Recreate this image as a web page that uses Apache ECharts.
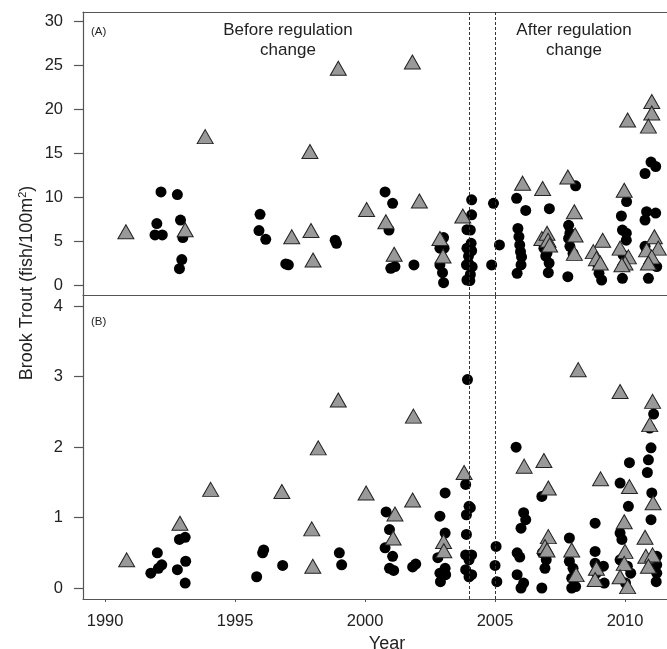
<!DOCTYPE html>
<html>
<head>
<meta charset="utf-8">
<script src="https://cdn.jsdelivr.net/npm/echarts@6/dist/echarts.min.js"></script>
<style>html,body{margin:0;padding:0;background:#fff;}#c{width:667px;height:649px;}</style>
</head>
<body>
<div id="c"></div>
<script>
// Panel A: density (fish/100m2) — [year, value]
var circlesA = [
 [1992.15,10.6],[1991.99,7.0],[1991.92,5.7],[1992.2,5.7],
 [1992.78,10.3],[1992.9,7.4],[1992.99,5.4],[1992.95,2.9],[1992.86,1.86],
 [1995.96,8.05],[1995.92,6.2],[1996.18,5.2],
 [1996.95,2.4],[1997.05,2.3],
 [1998.85,5.1],[1998.9,4.75],
 [2000.77,10.6],[2001.06,9.3],[2000.92,6.26],[2000.99,1.9],[2001.15,2.1],
 [2001.88,2.28],
 [2003.02,5.4],[2003.04,4.2],[2002.88,4.2],[2002.88,2.3],[2002.98,1.4],[2003.02,0.26],
 [2003.92,6.3],[2003.92,4.2],[2003.9,2.3],[2003.92,0.57],
 [2004.1,9.7],[2004.1,8.0],[2004.05,6.26],[2004.08,4.75],[2004.1,3.9],[2003.98,3.3],[2003.98,2.47],[2004.12,2.08],[2004.05,1.2],[2004.03,0.5],
 [2004.94,9.3],[2005.17,4.56],[2004.87,2.28],
 [2005.83,9.87],[2006.18,8.5],[2005.88,6.45],[2005.92,5.5],[2005.95,4.56],[2005.98,3.8],[2006.02,3.2],[2006.0,2.28],[2005.85,1.33],
 [2007.09,8.7],[2006.88,4.2],[2007.0,3.65],[2006.95,3.3],[2007.08,2.5],[2007.05,1.4],
 [2008.1,11.3],[2007.83,6.8],[2007.88,5.9],[2007.83,5.3],[2007.88,4.4],[2008.0,3.6],[2007.8,0.95],
 [2008.97,2.1],[2009.1,0.57],[2009.0,1.33],
 [2010.06,9.5],[2009.86,7.86],[2009.9,6.26],[2010.05,5.9],[2010.05,5.1],[2009.93,3.4],[2009.9,2.1],[2009.9,0.76],
 [2011.0,14.0],[2011.18,13.5],[2010.77,12.7],[2010.83,8.35],[2011.18,8.2],[2010.77,7.4],[2010.77,4.4],[2011.22,2.1],[2010.9,0.76]
];
var trianglesA = [
 [1990.8,6.07],[1993.08,6.3],[1993.85,16.9],[1997.18,5.5],[1997.92,6.2],[1997.88,15.2],[1998.0,2.85],
 [1998.97,24.7],[2000.06,8.6],[2000.8,7.2],[2001.12,3.5],[2001.82,25.4],[2002.09,9.57],[2002.88,5.3],[2003.0,3.3],[2003.76,7.86],
 [2006.06,11.6],
 [2006.83,11.0],[2006.8,5.3],[2007.0,5.9],[2007.04,5.1],[2007.1,4.56],
 [2007.8,12.3],[2008.05,8.35],[2008.08,5.7],[2008.05,3.6],
 [2009.14,5.1],[2008.78,3.8],[2008.9,3.0],[2009.05,2.5],
 [2010.1,18.8],[2009.97,10.8],[2009.81,4.2],[2010.13,3.2],[2010.0,2.5],[2009.88,2.3],
 [2011.03,20.9],[2011.03,19.6],[2010.9,18.1],[2011.13,5.5],[2010.83,4.0],[2011.28,4.2],[2011.03,3.2],[2010.9,2.5]
];
// Panel B
var circlesB = [
 [1992.01,0.50],[1992.18,0.33],[1992.05,0.28],[1991.76,0.21],
 [1992.86,0.69],[1993.08,0.72],[1992.78,0.26],[1993.1,0.38],[1993.08,0.07],
 [1996.1,0.54],[1996.06,0.50],[1995.83,0.16],
 [1996.83,0.32],
 [1999.01,0.50],[1999.1,0.33],
 [2000.81,1.08],[2000.94,0.83],[2000.77,0.57],[2001.06,0.45],[2000.94,0.28],[2001.1,0.25],
 [2001.83,0.30],[2001.95,0.34],
 [2003.08,1.35],[2002.88,1.02],[2003.08,0.78],[2002.8,0.43],[2003.08,0.28],[2002.88,0.21],[2003.1,0.19],[2002.9,0.09],
 [2003.94,2.96],[2003.87,1.47],[2004.0,1.16],[2003.9,1.04],[2003.9,0.76],[2003.87,0.47],[2004.0,0.40],[2003.87,0.26],[2004.0,0.16],[2004.1,0.47],[2004.1,0.19],[2004.05,1.14],
 [2005.04,0.59],[2005.0,0.32],[2005.07,0.09],
 [2005.81,2.0],[2006.1,1.07],[2006.18,0.97],[2006.0,0.85],[2005.85,0.50],[2005.95,0.44],[2005.85,0.19],[2006.1,0.07],[2006.0,0.0],
 [2006.8,1.30],[2006.82,0.50],[2006.97,0.40],[2006.92,0.28],[2006.8,0.0],
 [2007.86,0.71],[2007.86,0.38],[2008.0,0.28],[2007.95,0.14],[2008.1,0.02],[2007.95,0.0],
 [2008.85,0.92],[2008.85,0.52],[2008.85,0.35],[2009.17,0.31],[2008.9,0.21],[2009.2,0.07],
 [2010.17,1.78],[2009.81,1.49],[2010.13,1.16],[2009.81,0.78],[2009.88,0.69],[2009.81,0.40],[2010.09,0.31],[2010.22,0.21],[2010.02,0.07],
 [2011.1,2.47],[2010.95,2.27],[2011.0,1.99],[2010.9,1.82],[2010.86,1.64],[2011.03,1.35],[2011.0,0.97],[2011.22,0.45],[2011.0,0.40],[2011.22,0.33],[2011.22,0.21],[2011.2,0.09]
];
var trianglesB = [
 [1990.83,0.40],[1992.88,0.92],[1994.06,1.40],[1996.8,1.37],[1997.95,0.84],[1997.99,0.31],[1998.2,1.99],[1998.97,2.67],
 [2000.04,1.35],[2001.15,1.05],[2001.08,0.71],[2001.86,2.44],[2001.83,1.25],[2003.02,0.66],[2003.03,0.53],[2003.81,1.64],
 [2006.12,1.73],
 [2006.88,1.81],[2007.05,1.42],[2007.05,0.73],[2006.92,0.59],[2007.0,0.54],
 [2008.2,3.1],[2007.95,0.54],[2008.12,0.19],
 [2009.06,1.55],[2008.9,0.28],[2008.85,0.12],
 [2009.81,2.79],[2010.17,1.44],[2009.97,0.94],[2010.0,0.52],[2009.97,0.35],[2009.81,0.16],[2010.1,0.02],
 [2011.06,2.65],[2010.95,2.32],[2011.08,1.21],[2010.77,0.72],[2010.8,0.45],[2011.06,0.47],[2010.9,0.31]
];
var yTicksA = [0,5,10,15,20,25,30];
var yTicksB = [0,1,2,3,4];
var xTicks = [1990,1995,2000,2005,2010];
var regulationYears = [2004, 2005];

var FONT = 'Liberation Sans, Arial, Helvetica, sans-serif';
var AX = '#555';
var XMIN = 1989.15, XMAX = 2011.615;
var chart = echarts.init(document.getElementById('c'), null, {renderer:'canvas'});

var dashLine = {
  silent:true, symbol:'none', label:{show:false},
  lineStyle:{color:'#333', width:1, type:[3,2]},
  data: regulationYears.map(function(y){return {xAxis:y};})
};
var circleStyle = {color:'#000', opacity:1};
var triStyle = {color:'#999', borderColor:'#222', borderWidth:1, opacity:1};

function yAxisFor(idx, min, max, ticks){
  return {
    type:'value', gridIndex:idx, min:min, max:max,
    axisLine:{show:true, lineStyle:{color:AX, width:1.2}},
    axisTick:{show:true, length:9, inside:false, customValues:ticks, lineStyle:{color:AX, width:1.2}},
    axisLabel:{customValues:ticks, margin:20, fontSize:16.5, color:'#222', fontFamily:FONT},
    splitLine:{show:false}
  };
}
function borderAxis(idx){
  return {type:'value', gridIndex:idx, position:'top', min:XMIN, max:XMAX,
    axisLine:{show:true, onZero:false, lineStyle:{color:AX, width:1.2}},
    axisTick:{show:false}, axisLabel:{show:false}, splitLine:{show:false}};
}

chart.setOption({
  animation:false,
  backgroundColor:'#fff',
  grid:[
    {left:83, top:12, right:0, height:283},
    {left:83, top:295, right:0, height:304}
  ],
  xAxis:[
    borderAxis(0),
    borderAxis(1),
    {type:'value', gridIndex:1, position:'bottom', min:XMIN, max:XMAX,
     axisLine:{show:true, onZero:false, lineStyle:{color:AX, width:1.2}},
     axisTick:{show:true, length:3, customValues:xTicks, lineStyle:{color:AX}},
     axisLabel:{customValues:xTicks, margin:14, fontSize:16.5, color:'#222', fontFamily:FONT,
       formatter:function(v){return String(Math.round(v));}},
     splitLine:{show:false}}
  ],
  yAxis:[
    yAxisFor(0, -1.14, 31.1, yTicksA),
    yAxisFor(1, -0.156, 4.16, yTicksB)
  ],
  series:[
    {type:'scatter', xAxisIndex:0, yAxisIndex:0, data:circlesA, symbol:'circle', symbolSize:11, itemStyle:circleStyle, markLine:dashLine, z:2},
    {type:'scatter', xAxisIndex:0, yAxisIndex:0, data:trianglesA, symbol:'triangle', symbolSize:[16,14], itemStyle:triStyle, z:3},
    {type:'scatter', xAxisIndex:2, yAxisIndex:1, data:circlesB, symbol:'circle', symbolSize:11, itemStyle:circleStyle, markLine:dashLine, z:2},
    {type:'scatter', xAxisIndex:2, yAxisIndex:1, data:trianglesB, symbol:'triangle', symbolSize:[16,14], itemStyle:triStyle, z:3}
  ],
  graphic:[
    {type:'text', left:91, top:26, style:{text:'(A)', font:'11.5px '+FONT, fill:'#222'}},
    {type:'text', left:91, top:316, style:{text:'(B)', font:'11.5px '+FONT, fill:'#222'}},
    {type:'text', x:288, y:40, style:{text:'Before regulation\nchange', font:'17px '+FONT, fill:'#222', textAlign:'center', textVerticalAlign:'middle', lineHeight:20}},
    {type:'text', x:574, y:40, style:{text:'After regulation\nchange', font:'17px '+FONT, fill:'#222', textAlign:'center', textVerticalAlign:'middle', lineHeight:20}},
    {type:'text', x:387, y:644, style:{text:'Year', font:'18px '+FONT, fill:'#222', textAlign:'center', textVerticalAlign:'middle'}},
    {type:'text', x:27, y:283, rotation:Math.PI/2,
     style:{text:'Brook Trout (fish/100m{sup|2})', font:'18px '+FONT, fill:'#222', textAlign:'center', textVerticalAlign:'middle',
       rich:{sup:{fontSize:11, fontFamily:FONT, fill:'#222', verticalAlign:'top', lineHeight:20}}}}
  ]
});
</script>
</body>
</html>
